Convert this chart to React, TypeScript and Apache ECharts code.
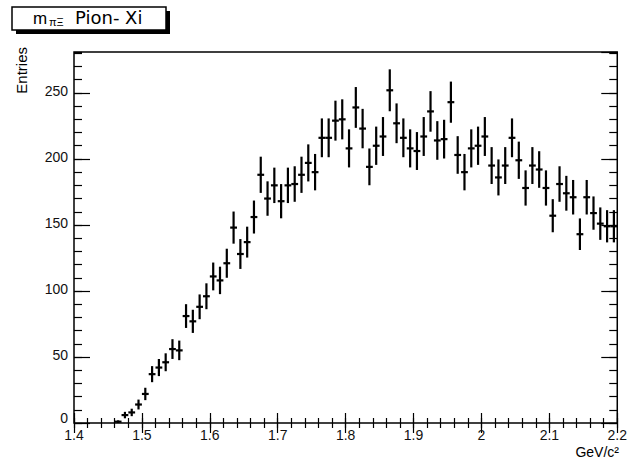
import React, { useEffect, useRef } from "react";
import * as echarts from "echarts";

// Histogram: bins of width 0.01 from 1.40 to 2.20 (80 bins)
const X_MIN = 1.4;
const X_MAX = 2.2;
const BIN_WIDTH = 0.01;
const counts = [
  0, 0, 0, 0, 0, 0, 1, 6, 8, 14,
  22, 37, 42, 46, 56, 55, 81, 77, 88, 96,
  111, 108, 121, 148, 128, 137, 156, 188, 170, 180,
  168, 180, 181, 188, 197, 190, 216, 216, 229, 230,
  208, 239, 223, 194, 210, 217, 252, 227, 216, 208,
  206, 217, 236, 214, 215, 243, 203, 190, 208, 210,
  217, 195, 186, 195, 216, 199, 178, 195, 192, 178,
  157, 181, 174, 171, 143, 171, 159, 151, 149, 149,
];
const Y_MAX = 281;
const titleMain = "m";
const titleSub = "πΞ";
const titleRest = "Pion- Xi";
const xTitle = "GeV/c²";
const yTitle = "Entries";

const FONT = "Liberation Sans, Arial, sans-serif";

export default function App() {
  const ref = useRef<HTMLDivElement>(null);
  useEffect(() => {
    if (!ref.current) return;
    const chart = echarts.init(ref.current, null, { renderer: "svg" });
    const data = counts
      .map((v, i) => [Math.round((X_MIN + BIN_WIDTH * (i + 0.5)) * 1000) / 1000, v])
      .filter((d) => d[1] > 0);

    const tickColor = "#000";
    const xMajor = (pos: string, labels: boolean) => ({
      type: "value",
      min: X_MIN,
      max: X_MAX,
      interval: 0.1,
      position: pos,
      axisLine: { show: false },
      axisTick: { show: true, inside: true, length: 10, lineStyle: { color: tickColor, width: 1.2 } },
      axisLabel: labels
        ? { show: true, margin: 5, fontSize: 14, color: "#111", fontFamily: FONT }
        : { show: false },
      splitLine: { show: false },
    });
    const xMinor = (pos: string) => ({
      type: "value",
      min: X_MIN,
      max: X_MAX,
      interval: 0.02,
      position: pos,
      axisLine: { show: false },
      axisTick: { show: true, inside: true, length: 5, lineStyle: { color: tickColor, width: 1.2 } },
      axisLabel: { show: false },
      splitLine: { show: false },
    });
    const yMajor = (pos: string, labels: boolean) => ({
      type: "value",
      min: 0,
      max: Y_MAX,
      interval: 50,
      position: pos,
      axisLine: { show: false },
      axisTick: { show: true, inside: true, length: 16, lineStyle: { color: tickColor, width: 1.2 } },
      axisLabel: labels
        ? {
            show: true,
            margin: 6,
            fontSize: 14,
            color: "#111",
            fontFamily: FONT,
            showMaxLabel: false,
            formatter: (v: number) => (v === 0 ? "{z|0}" : "{n|" + v + "}"),
            rich: {
              z: { fontSize: 14, fontFamily: FONT, color: "#111", padding: [0, 0, 10, 0] },
              n: { fontSize: 14, fontFamily: FONT, color: "#111", padding: [0, 0, 3, 0] },
            },
          }
        : { show: false },
      splitLine: { show: false },
    });
    const yMinor = (pos: string) => ({
      type: "value",
      min: 0,
      max: Y_MAX,
      interval: 10,
      position: pos,
      axisLine: { show: false },
      axisTick: { show: true, inside: true, length: 8, lineStyle: { color: tickColor, width: 1.2 } },
      axisLabel: { show: false },
      splitLine: { show: false },
    });

    chart.setOption({
      animation: false,
      grid: {
        left: 74,
        right: 8,
        top: 52,
        bottom: 41,
        show: true,
        borderColor: "#000",
        borderWidth: 1.5,
        backgroundColor: "transparent",
      },
      xAxis: [xMajor("bottom", true), xMinor("bottom"), xMajor("top", false), xMinor("top")],
      yAxis: [yMajor("left", true), yMinor("left"), yMajor("right", false), yMinor("right")],
      series: [
        {
          type: "custom",
          coordinateSystem: "cartesian2d",
          xAxisIndex: 0,
          yAxisIndex: 0,
          encode: { x: 0, y: 1 },
          data,
          renderItem: (params: any, api: any) => {
            const x = api.value(0);
            const y = api.value(1);
            const e = Math.sqrt(y);
            const top = api.coord([x, y + e]);
            const bot = api.coord([x, y - e]);
            const l = api.coord([x - BIN_WIDTH / 2, y]);
            const r = api.coord([x + BIN_WIDTH / 2, y]);
            return {
              type: "group",
              children: [
                {
                  type: "line",
                  shape: { x1: top[0], y1: top[1], x2: bot[0], y2: bot[1] },
                  style: { stroke: "#000", lineWidth: 2.2 },
                },
                {
                  type: "line",
                  shape: { x1: l[0], y1: l[1], x2: r[0], y2: r[1] },
                  style: { stroke: "#000", lineWidth: 2.2 },
                },
              ],
            };
          },
        },
      ],
      graphic: [
        // title pave shadow and box
        { type: "rect", shape: { x: 16, y: 11, width: 154, height: 23 }, style: { fill: "#000" }, z: 10 },
        {
          type: "rect",
          shape: { x: 12, y: 7, width: 154, height: 23 },
          style: { fill: "#fff", stroke: "#000", lineWidth: 1.5 },
          z: 11,
        },
        {
          type: "text",
          x: 33,
          y: 18,
          style: { text: titleMain, fontSize: 17, fontFamily: FONT, fill: "#000", verticalAlign: "middle" },
          z: 12,
        },
        {
          type: "text",
          x: 49,
          y: 22,
          style: { text: titleSub, fontSize: 11, fontFamily: FONT, fill: "#000", verticalAlign: "middle" },
          z: 12,
        },
        {
          type: "text",
          x: 75,
          y: 17,
          style: {
            text: titleRest,
            fontSize: 18,
            fontFamily: "DejaVu Sans, sans-serif",
            fill: "#000",
            verticalAlign: "middle",
          },
          z: 12,
        },
        {
          type: "text",
          x: 21,
          y: 47,
          rotation: Math.PI / 2,
          style: {
            text: yTitle,
            fontSize: 15,
            fontFamily: FONT,
            fill: "#000",
            align: "right",
            verticalAlign: "middle",
          },
        },
        {
          type: "text",
          x: 619,
          y: 452,
          style: {
            text: xTitle,
            fontSize: 14,
            fontFamily: FONT,
            fill: "#000",
            align: "right",
            verticalAlign: "middle",
          },
        },
      ],
    });
    return () => chart.dispose();
  }, []);
  return (
    <div
      ref={ref}
      style={{ position: "absolute", left: 0, top: 0, width: 630, height: 464, background: "#fff" }}
    />
  );
}
